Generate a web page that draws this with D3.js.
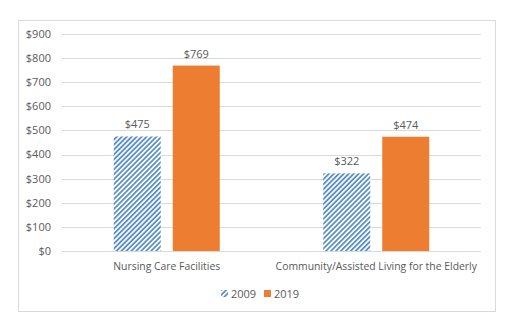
<!DOCTYPE html>
<html>
<head>
<meta charset="utf-8">
<script src="https://cdn.jsdelivr.net/npm/d3@7"></script>
<style>
  body { margin: 0; background: #fff; }
  svg text { font-family: "Open Sans", "Noto Sans", sans-serif; fill: #595959; }
</style>
</head>
<body>
<div id="chart"></div>
<script>
// data
const categories = ["Nursing Care Facilities", "Community/Assisted Living for the Elderly"];
const seriesNames = ["2009", "2019"];
const values2009 = [475, 322];
const values2019 = [769, 474];
const yTicks = [0, 100, 200, 300, 400, 500, 600, 700, 800, 900];

const W = 517, H = 330;
const plot = {left: 62, right: 481, top: 34, bottom: 251};

const svg = d3.select("#chart").append("svg")
    .attr("width", W)
    .attr("height", H);

// hatch for 2009
const defs = svg.append("defs");
const pat = defs.append("pattern")
    .attr("id", "hatch")
    .attr("patternUnits", "userSpaceOnUse")
    .attr("width", 3.5).attr("height", 3.5)
    .attr("patternTransform", "rotate(45)");
pat.append("rect").attr("width", 3.5).attr("height", 3.5).attr("fill", "#fff");
pat.append("rect").attr("width", 1.8).attr("height", 3.5).attr("fill", "#5b8fc7");

const colors = ["url(#hatch)", "#ed7d31"];

// chart border
svg.append("rect")
    .attr("x", 18.5).attr("y", 20.5)
    .attr("width", 477).attr("height", 291)
    .attr("fill", "none")
    .attr("stroke", "#d9d9d9");

const x0 = d3.scaleBand()
    .domain(categories)
    .range([plot.left, plot.right]);

const x1 = d3.scaleBand()
    .domain(seriesNames)
    .range([0, 106])
    .paddingInner(12 / 59);

const y = d3.scaleLinear()
    .domain([0, 900])
    .range([plot.bottom, plot.top]);

// gridlines
svg.append("g")
    .selectAll("line")
    .data(yTicks)
    .join("line")
    .attr("x1", plot.left).attr("x2", plot.right)
    .attr("y1", d => Math.round(y(d)) + 0.5)
    .attr("y2", d => Math.round(y(d)) + 0.5)
    .attr("stroke", "#d9d9d9");

// y axis labels
svg.append("g")
    .selectAll("text")
    .data(yTicks)
    .join("text")
    .attr("x", 51)
    .attr("y", d => y(d))
    .attr("dy", "0.35em")
    .attr("text-anchor", "end")
    .attr("font-size", 11)
    .text(d => "$" + d);

const rows = categories.map((c, i) => ({
    cat: c,
    vals: [values2009[i], values2019[i]]
}));

const groups = svg.append("g")
    .selectAll("g")
    .data(rows)
    .join("g")
    .attr("transform", d => `translate(${x0(d.cat) + (x0.bandwidth() - 106) / 2},0)`);

groups.selectAll("rect")
    .data(d => d.vals.map((v, j) => ({s: seriesNames[j], v: v, j: j})))
    .join("rect")
    .attr("x", d => x1(d.s))
    .attr("width", x1.bandwidth())
    .attr("y", d => y(d.v))
    .attr("height", d => y(0) - y(d.v))
    .attr("fill", d => colors[d.j]);

groups.selectAll("text")
    .data(d => d.vals.map((v, j) => ({s: seriesNames[j], v: v})))
    .join("text")
    .attr("x", d => x1(d.s) + x1.bandwidth() / 2)
    .attr("y", d => y(d.v) - 8)
    .attr("text-anchor", "middle")
    .attr("font-size", 11)
    .text(d => "$" + d.v);

// category labels
svg.append("g")
    .selectAll("text")
    .data(categories)
    .join("text")
    .attr("x", d => x0(d) + x0.bandwidth() / 2)
    .attr("y", 270)
    .attr("text-anchor", "middle")
    .attr("font-size", 10.4)
    .text(d => d);

// legend
const legend = svg.append("g").attr("transform", "translate(221,294)");
const legX = [0, 43];
seriesNames.forEach((s, i) => {
    legend.append("rect")
        .attr("x", legX[i]).attr("y", -4)
        .attr("width", 7).attr("height", 7)
        .attr("fill", colors[i]);
    legend.append("text")
        .attr("x", legX[i] + 10)
        .attr("y", 0)
        .attr("dy", "0.35em")
        .attr("font-size", 11)
        .text(s);
});
</script>
</body>
</html>
